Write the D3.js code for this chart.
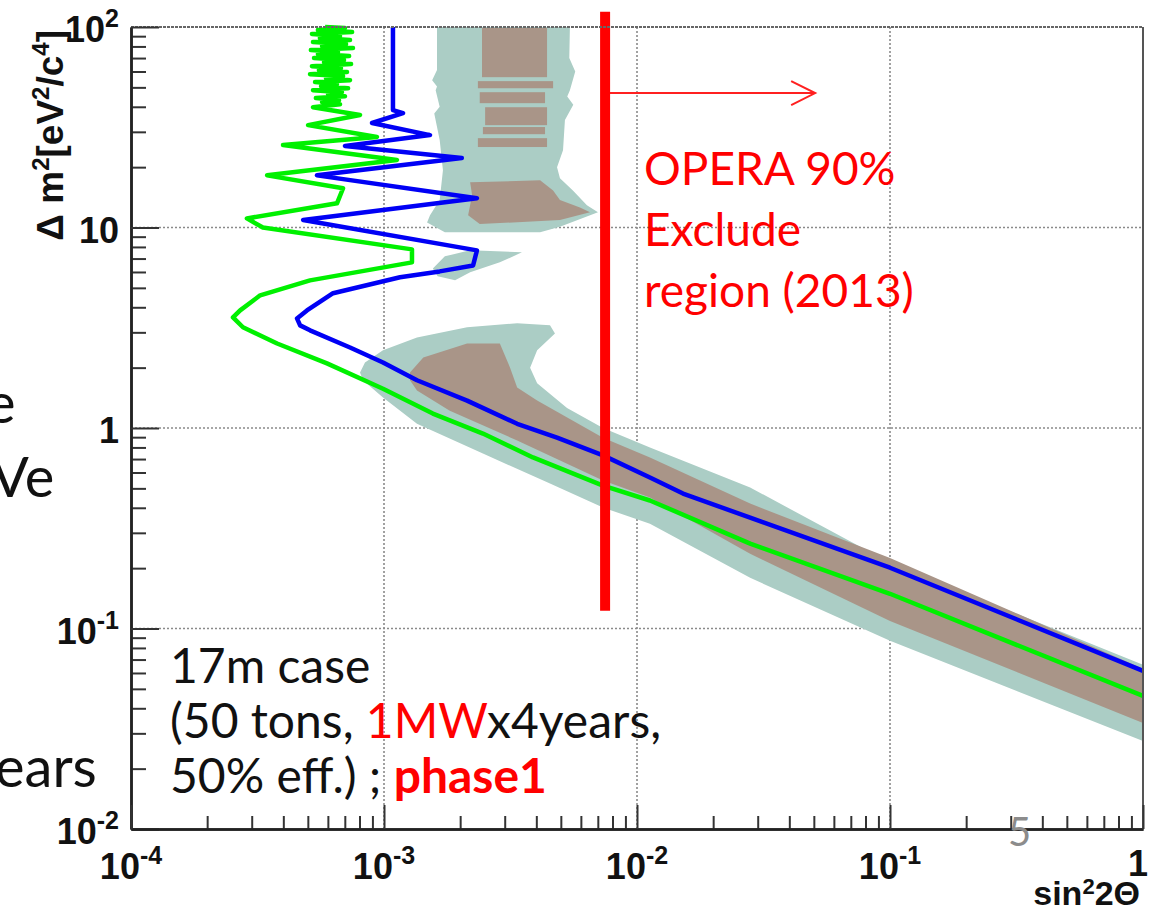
<!DOCTYPE html>
<html>
<head>
<meta charset="utf-8">
<script src="https://cdn.jsdelivr.net/npm/d3@7/dist/d3.min.js"></script>
<style>
  body { margin: 0; background: #fff; }
  svg { display: block; }
</style>
</head>
<body>
<div id="chart-area"></div>
<script>
// axis ranges and tick labels
var xDomain = [1e-4, 1];
var yDomain = [1e-2, 1e2];
var xTicks = [1e-4, 1e-3, 1e-2, 1e-1, 1];
var xTickLabels = [["10", "-4"], ["10", "-3"], ["10", "-2"], ["10", "-1"], ["1", ""]];
var yTicks = [1e-2, 1e-1, 1, 10, 100];
var yTickLabels = [["10", "-2"], ["10", "-1"], ["1", ""], ["10", ""], ["10", "2"]];

// sensitivity curves, [sin^2 2theta, dm^2]
var greenCurve = [
  [5.85e-4, 100], [7.01e-4, 98.9], [5.48e-4, 96.6], [7.48e-4, 94.4], [5.19e-4, 92.3],
  [6.70e-4, 90.2], [5.58e-4, 88.1], [7.34e-4, 86.1], [5.24e-4, 84.1], [7.08e-4, 82.2],
  [5.69e-4, 80.3], [7.54e-4, 78.5], [5.14e-4, 76.7], [6.58e-4, 75.0], [5.48e-4, 73.3],
  [7.28e-4, 71.6], [5.29e-4, 70.0], [6.95e-4, 68.4], [5.79e-4, 66.8], [7.41e-4, 65.3],
  [5.19e-4, 63.8], [6.76e-4, 62.4], [5.53e-4, 61.0], [7.14e-4, 59.6], [5.10e-4, 58.2],
  [6.89e-4, 56.9], [5.90e-4, 55.6], [7.34e-4, 54.3], [5.34e-4, 53.1], [6.52e-4, 51.9],
  [5.64e-4, 50.7], [7.21e-4, 49.5], [5.24e-4, 48.4], [6.82e-4, 47.3], [6.01e-4, 46.2],
  [7.01e-4, 45.2], [5.38e-4, 44.2], [6.64e-4, 43.1], [5.69e-4, 42.2], [6.70e-4, 41.2],
  [5.24e-4, 39.8], [8.04e-4, 36.4], [5.01e-4, 32.4], [9.38e-4, 28.3],
  [3.99e-4, 25.8], [1.125e-3, 21.7], [3.45e-4, 18.2], [6.89e-4, 15.7], [6.52e-4, 13.2],
  [2.87e-4, 11.1], [3.32e-4, 10.0], [1.29e-3, 7.78], [1.29e-3, 6.70], [5.10e-4, 5.45],
  [3.24e-4, 4.59], [2.70e-4, 3.86], [2.53e-4, 3.56], [2.77e-4, 3.18], [3.78e-4, 2.64],
  [5.95e-4, 2.10], [9.91e-4, 1.57], [1.56e-3, 1.18], [2.46e-3, 0.938], [3.88e-3, 0.713],
  [7.34e-3, 0.516], [1.125e-2, 0.435], [2.80e-2, 0.265], [0.1, 0.149], [1, 0.0461]
];
var blueCurve = [
  [1.085e-3, 100], [1.085e-3, 38.5], [1.189e-3, 37.2], [8.97e-4, 33.2], [1.52e-3, 28.9],
  [7.01e-4, 25.5], [2.03e-3, 22.2], [5.43e-4, 18.2], [2.33e-3, 14.0], [4.79e-4, 10.9],
  [2.33e-3, 7.69], [2.25e-3, 6.47], [1.66e-3, 6.04], [1.157e-3, 5.65], [6.29e-4, 4.70],
  [4.96e-4, 3.86], [4.53e-4, 3.52], [4.66e-4, 3.25], [5.10e-4, 3.07], [7.34e-4, 2.52],
  [9.91e-4, 2.12], [1.35e-3, 1.73], [2.13e-3, 1.37], [3.36e-3, 1.05], [4.83e-3, 0.895],
  [7.34e-3, 0.73], [1.125e-2, 0.566], [1.52e-2, 0.471], [2.80e-2, 0.357], [0.1, 0.201],
  [1, 0.0615]
];

// allowed regions (outer = teal, inner = brown)
var tealUpper = [
  [1.62e-3, 100], [1.62e-3, 61.0], [1.55e-3, 54.3], [1.62e-3, 50.5], [1.60e-3, 48.4],
  [1.66e-3, 40.0], [1.58e-3, 37.0], [1.66e-3, 27.3], [1.71e-3, 19.3], [1.66e-3, 13.7],
  [1.52e-3, 11.5], [1.48e-3, 10.6], [1.74e-3, 9.46], [4.14e-3, 9.46], [4.96e-3, 10.1],
  [7.01e-3, 11.9], [6.34e-3, 12.9], [5.58e-3, 15.3], [4.96e-3, 17.6], [4.83e-3, 20.0],
  [5.10e-3, 24.3], [5.19e-3, 34.4], [5.60e-3, 41.0], [5.30e-3, 45.0], [5.43e-3, 48.4],
  [5.70e-3, 60.0], [5.40e-3, 70.0], [5.43e-3, 100]
];
var tealIsland = [
  [1.56e-3, 6.25], [1.74e-3, 7.18], [2.19e-3, 7.69], [3.51e-3, 7.52], [2.87e-3, 6.70],
  [2.19e-3, 5.98], [1.91e-3, 5.45], [1.63e-3, 5.71]
];
var tealLower = [
  [8.04e-4, 1.89], [8.41e-4, 2.12], [9.91e-4, 2.44], [1.35e-3, 2.83], [2.13e-3, 3.18],
  [3.36e-3, 3.33], [4.53e-3, 3.25], [4.74e-3, 2.96], [4.03e-3, 2.44], [3.78e-3, 2.00],
  [4.03e-3, 1.67], [5.29e-3, 1.26], [7.34e-3, 1.00], [1.125e-2, 0.80], [2.80e-2, 0.505],
  [0.1, 0.213], [1, 0.066],
  [1, 0.0275], [0.1, 0.0868], [2.80e-2, 0.179], [1.125e-2, 0.333], [7.34e-3, 0.401],
  [4.53e-3, 0.528], [2.46e-3, 0.746], [1.35e-3, 1.05], [9.91e-4, 1.42], [8.26e-4, 1.73]
];
var brownLower = [
  [1.267e-3, 1.89], [1.43e-3, 2.25], [2.13e-3, 2.64], [2.87e-3, 2.64], [3.15e-3, 2.00],
  [3.36e-3, 1.59], [4.03e-3, 1.37], [7.34e-3, 0.895], [1.125e-2, 0.713], [2.80e-2, 0.42],
  [0.1, 0.225], [1, 0.063],
  [1, 0.0338], [0.1, 0.109], [2.80e-2, 0.236], [1.125e-2, 0.45], [7.34e-3, 0.547],
  [3.36e-3, 0.867], [1.82e-3, 1.22], [1.35e-3, 1.54], [1.267e-3, 1.73]
];
var brownBlock = [
  [2.19e-3, 16.8], [4.14e-3, 17.2], [4.66e-3, 15.3], [4.96e-3, 13.7], [5.95e-3, 12.6],
  [6.52e-3, 11.9], [4.96e-3, 10.9], [2.39e-3, 10.4], [2.15e-3, 11.5], [2.23e-3, 14.5]
];
// brown stripes at high dm^2: [xLeft, xRight, yTop, yBottom]
var brownStripes = [
  [2.44e-3, 4.41e-3, 98.9, 56.2],
  [2.35e-3, 4.66e-3, 53.7, 49.5],
  [2.39e-3, 4.33e-3, 47.3, 41.7],
  [2.51e-3, 4.41e-3, 39.8, 32.4],
  [2.46e-3, 4.33e-3, 31.7, 29.2],
  [2.35e-3, 4.41e-3, 27.9, 25.2]
];

// OPERA 90% limit
var operaX = 7.48e-3;
var operaY = [0.1227, 119];
var arrowX = [7.82e-3, 5.06e-2];
var arrowY = 46.8;

var margin = {top: 27, right: 8, bottom: 83, left: 131},
  width = 1151 - margin.left - margin.right,
  height = 912 - margin.top - margin.bottom;

var svgRoot = d3.select("#chart-area")
  .append("svg")
  .attr("width", 1151)
  .attr("height", 912);

svgRoot.append("rect").attr("width", 1151).attr("height", 912).attr("fill", "#fff");

var svg = svgRoot.append("g")
  .attr("transform", "translate(" + margin.left + "," + margin.top + ")");

var x = d3.scaleLog().domain(xDomain).range([0, width]);
var y = d3.scaleLog().domain(yDomain).range([height, 0]);

var bold = "'Liberation Sans', Arial, sans-serif";
var slide = "Lato, 'Open Sans', sans-serif";

// grid
var grid = svg.append("g")
  .attr("stroke", "#8a8a8a")
  .attr("stroke-width", 1.6)
  .attr("stroke-dasharray", "2,2");
grid.selectAll(".vg").data(xTicks.slice(1, -1)).enter().append("line")
  .attr("x1", function(d) { return x(d); }).attr("x2", function(d) { return x(d); })
  .attr("y1", 0).attr("y2", height);
grid.selectAll(".hg").data(yTicks.slice(1, -1)).enter().append("line")
  .attr("y1", function(d) { return y(d); }).attr("y2", function(d) { return y(d); })
  .attr("x1", 0).attr("x2", width);

// regions
var area = d3.line().x(function(d) { return x(d[0]); }).y(function(d) { return y(d[1]); });
var teal = "#abcdc5", brown = "#a99588";

[tealUpper, tealIsland, tealLower].forEach(function(poly) {
  svg.append("path").attr("d", area(poly) + "Z").attr("fill", teal);
});
[brownLower, brownBlock].forEach(function(poly) {
  svg.append("path").attr("d", area(poly) + "Z").attr("fill", brown);
});
svg.selectAll(".stripe").data(brownStripes).enter().append("rect")
  .attr("x", function(d) { return x(d[0]); })
  .attr("width", function(d) { return x(d[1]) - x(d[0]); })
  .attr("y", function(d) { return y(d[2]); })
  .attr("height", function(d) { return y(d[3]) - y(d[2]); })
  .attr("fill", brown);

// curves
svg.append("path").datum(blueCurve)
  .attr("d", area).attr("fill", "none")
  .attr("stroke", "#0000f5").attr("stroke-width", 4.5).attr("stroke-linejoin", "round");
svg.append("path").datum(greenCurve)
  .attr("d", area).attr("fill", "none")
  .attr("stroke", "#00f000").attr("stroke-width", 4.5).attr("stroke-linejoin", "round");

// OPERA line and arrow
svg.append("line")
  .attr("x1", x(operaX)).attr("x2", x(operaX))
  .attr("y1", y(operaY[0])).attr("y2", y(operaY[1]))
  .attr("stroke", "#ff0000").attr("stroke-width", 10);
svg.append("line")
  .attr("x1", x(arrowX[0])).attr("x2", x(arrowX[1]))
  .attr("y1", y(arrowY)).attr("y2", y(arrowY))
  .attr("stroke", "#ff2020").attr("stroke-width", 2);
svg.append("polyline")
  .attr("points", [[x(arrowX[1]) - 24, y(arrowY) - 12], [x(arrowX[1]), y(arrowY)], [x(arrowX[1]) - 24, y(arrowY) + 12]].join(" "))
  .attr("fill", "none").attr("stroke", "#ff2020").attr("stroke-width", 2);

// axes frame
svg.append("line").attr("x1", 0).attr("x2", width).attr("y1", 0).attr("y2", 0)
  .attr("stroke", "#666").attr("stroke-width", 2).attr("stroke-dasharray", "3,1");
svg.append("line").attr("x1", width).attr("x2", width).attr("y1", 0).attr("y2", height)
  .attr("stroke", "#555").attr("stroke-width", 2);

function minorTicks(domain) {
  var out = [];
  for (var e = Math.log10(domain[0]); e < Math.log10(domain[1]); e++) {
    for (var m = 2; m < 10; m++) out.push(m * Math.pow(10, e));
  }
  return out;
}

var yAxisMinor = svg.append("g").call(d3.axisRight(y).tickValues(minorTicks(yDomain)).tickSize(15).tickSizeOuter(0).tickFormat(""));
var yAxisMajor = svg.append("g").call(d3.axisRight(y).tickValues(yTicks).tickSize(28).tickSizeOuter(0).tickFormat(""));
var xAxisMinor = svg.append("g").attr("transform", "translate(0," + height + ")")
  .call(d3.axisTop(x).tickValues(minorTicks(xDomain)).tickSize(13).tickSizeOuter(0).tickFormat(""));
var xAxisMajor = svg.append("g").attr("transform", "translate(0," + height + ")")
  .call(d3.axisTop(x).tickValues(xTicks).tickSize(24).tickSizeOuter(0).tickFormat(""));
[yAxisMinor, yAxisMajor, xAxisMinor, xAxisMajor].forEach(function(a) {
  a.selectAll("line").attr("stroke", "#333").attr("stroke-width", 2);
  a.select(".domain").attr("stroke", "#222").attr("stroke-width", 2.5);
});

// tick labels
function supLabel(sel, lab) {
  sel.append("tspan").text(lab[0]);
  if (lab[1]) sel.append("tspan").attr("font-size", 25).attr("dy", -15).text(lab[1]);
}
xTicks.forEach(function(t, i) {
  var last = i === xTicks.length - 1;
  var tx = svg.append("text")
    .attr("x", last ? x(t) + 5 : x(t)).attr("y", last ? height + 47 : height + 50)
    .attr("text-anchor", last ? "end" : "middle")
    .attr("font-family", bold).attr("font-weight", "bold").attr("font-size", 36)
    .attr("fill", "#111");
  supLabel(tx, xTickLabels[i]);
});
yTicks.forEach(function(t, i) {
  var ty = svg.append("text")
    .attr("x", -12).attr("y", y(t) + 15)
    .attr("text-anchor", "end")
    .attr("font-family", bold).attr("font-weight", "bold").attr("font-size", 36)
    .attr("fill", "#111");
  supLabel(ty, yTickLabels[i]);
});

// axis titles
var yTitle = svg.append("text")
  .attr("transform", "translate(-68,3) rotate(-90)")
  .attr("text-anchor", "end")
  .attr("font-family", bold).attr("font-weight", "bold").attr("font-size", 37)
  .attr("fill", "#111");
yTitle.append("tspan").text("\u0394 m");
yTitle.append("tspan").attr("font-size", 24).attr("dy", -14).text("2");
yTitle.append("tspan").attr("dy", 14).text("[eV");
yTitle.append("tspan").attr("font-size", 24).attr("dy", -14).text("2");
yTitle.append("tspan").attr("dy", 14).text("/c");
yTitle.append("tspan").attr("font-size", 24).attr("dy", -14).text("4");
yTitle.append("tspan").attr("dy", 14).text("]");

var xTitle = svg.append("text")
  .attr("x", width - 3).attr("y", height + 76)
  .attr("text-anchor", "end")
  .attr("font-family", bold).attr("font-weight", "bold").attr("font-size", 34)
  .attr("fill", "#111");
xTitle.append("tspan").text("sin");
xTitle.append("tspan").attr("font-size", 22).attr("dy", -11).text("2");
xTitle.append("tspan").attr("dy", 11).text("2\u0398");

// slide annotations (page coordinates)
var notes = svgRoot.append("g").attr("font-family", slide);
var opera = ["OPERA 90%", "Exclude", "region (2013)"];
opera.forEach(function(s, i) {
  notes.append("text").attr("x", 644).attr("y", 185 + i * 61)
    .attr("font-size", 46).attr("fill", "#ff0000").text(s);
});

var caseText = notes.append("g").attr("font-size", 48).attr("fill", "#111");
caseText.append("text").attr("x", 170).attr("y", 683).text("17m case");
var l2 = caseText.append("text").attr("x", 170).attr("y", 738);
l2.append("tspan").text("(50 tons, ");
l2.append("tspan").attr("fill", "#ff0000").text("1MW");
l2.append("tspan").text("x4years,");
var l3 = caseText.append("text").attr("x", 170).attr("y", 793);
l3.append("tspan").text("50% eff.) ; ");
l3.append("tspan").attr("fill", "#ff0000").attr("font-weight", "bold").text("phase1");

// cut-off slide text at the left edge
notes.append("text").attr("x", -14).attr("y", 423).attr("font-size", 56).attr("fill", "#111").text("e");
notes.append("text").attr("x", -9).attr("y", 497).attr("font-size", 56).attr("fill", "#111").text("Ve");
notes.append("text").attr("x", -5).attr("y", 787).attr("font-size", 56).attr("fill", "#111").text("ears");
notes.append("text").attr("x", -12).attr("y", 712).attr("font-size", 44).attr("fill", "#2a3cc8").text(")");

// page number
notes.append("text").attr("x", 1008).attr("y", 846).attr("font-size", 40).attr("fill", "#8c8c8c").text("5");
</script>
</body>
</html>
